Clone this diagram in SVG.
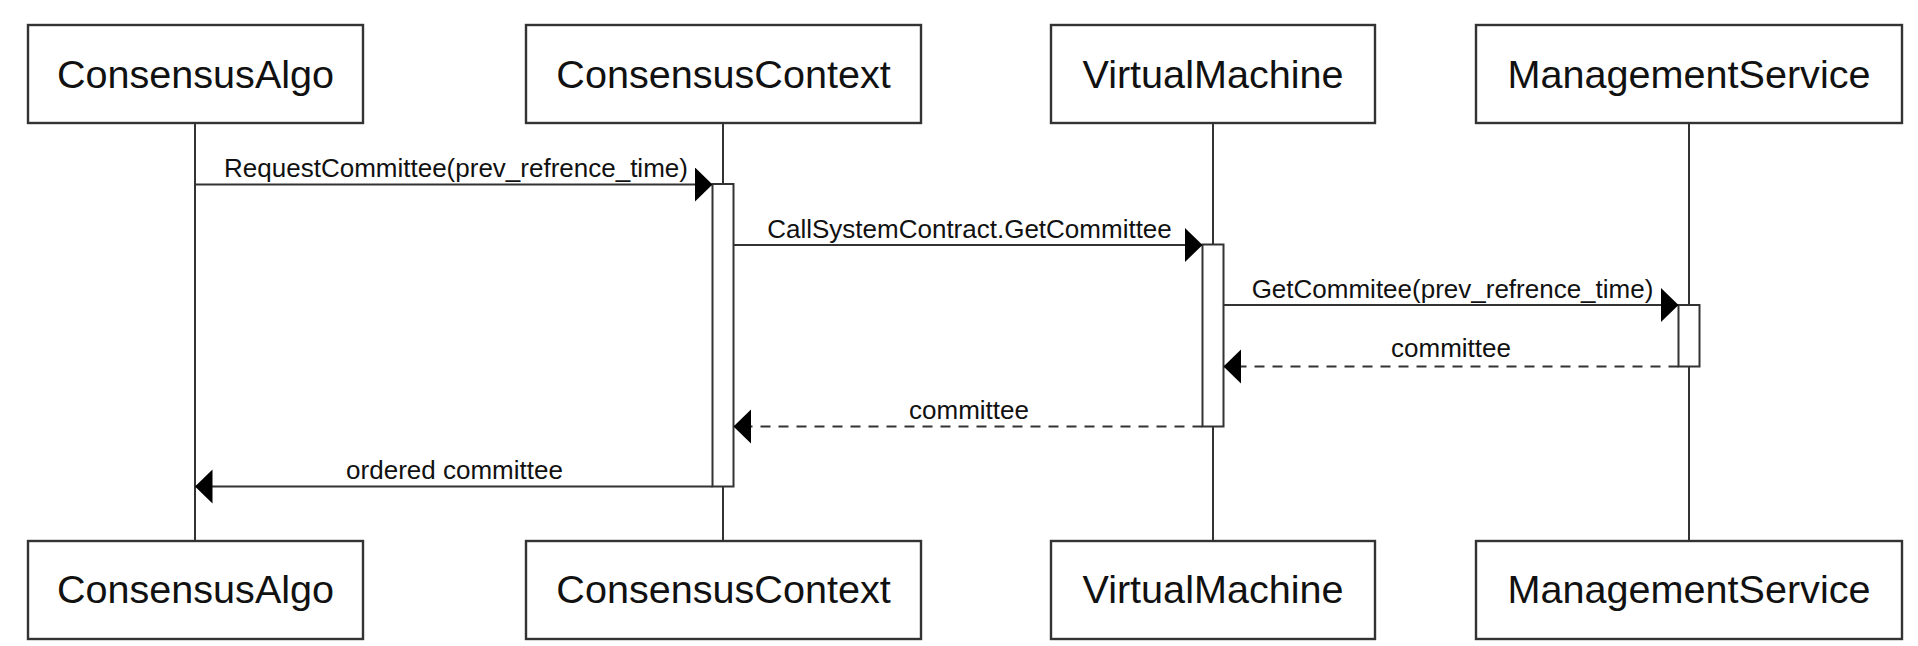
<svg xmlns="http://www.w3.org/2000/svg" width="1918" height="646" viewBox="0 0 1918 646">
<style>
.box{fill:#fff;stroke:#333;stroke-width:2.4}
.life{stroke:#333;stroke-width:2;fill:none}
.act{fill:#fff;stroke:#333;stroke-width:2}
.pt{font-family:"Liberation Sans",Arial,sans-serif;font-size:39.6px;fill:#111;text-anchor:middle}
.msg{stroke:#333;stroke-width:2;fill:none}
.dash{stroke-dasharray:10 8}
.lbl{font-family:"Liberation Sans",Arial,sans-serif;font-size:26px;fill:#111;text-anchor:middle}
</style>
<defs>
<marker id="arr" markerUnits="userSpaceOnUse" markerWidth="19" markerHeight="36" refX="17.5" refY="17" orient="auto" viewBox="0 0 19 36">
<path d="M0,0 L17.5,17 L0,34 Z" fill="#000"/>
</marker>
</defs>
<rect width="1918" height="646" fill="#fff"/>
<g id="lifelines">
<line class="life" x1="195" y1="123" x2="195" y2="541"/>
<line class="life" x1="723" y1="123" x2="723" y2="541"/>
<line class="life" x1="1213" y1="123" x2="1213" y2="541"/>
<line class="life" x1="1689" y1="123" x2="1689" y2="541"/>
</g>
<g id="ConsensusAlgo">
<rect class="box" x="28" y="25" width="335" height="98"/>
<text class="pt" x="195.5" y="87.5">ConsensusAlgo</text>
</g>
<g id="ConsensusContext">
<rect class="box" x="526" y="25" width="395" height="98"/>
<text class="pt" x="723.5" y="87.5">ConsensusContext</text>
</g>
<g id="VirtualMachine">
<rect class="box" x="1051" y="25" width="324" height="98"/>
<text class="pt" x="1213" y="87.5">VirtualMachine</text>
</g>
<g id="ManagementService">
<rect class="box" x="1476" y="25" width="426" height="98"/>
<text class="pt" x="1689" y="87.5">ManagementService</text>
</g>
<g id="ConsensusAlgo_bottom">
<rect class="box" x="28" y="541" width="335" height="98"/>
<text class="pt" x="195.5" y="603">ConsensusAlgo</text>
</g>
<g id="ConsensusContext_bottom">
<rect class="box" x="526" y="541" width="395" height="98"/>
<text class="pt" x="723.5" y="603">ConsensusContext</text>
</g>
<g id="VirtualMachine_bottom">
<rect class="box" x="1051" y="541" width="324" height="98"/>
<text class="pt" x="1213" y="603">VirtualMachine</text>
</g>
<g id="ManagementService_bottom">
<rect class="box" x="1476" y="541" width="426" height="98"/>
<text class="pt" x="1689" y="603">ManagementService</text>
</g>
<g id="activations">
<rect class="act" x="712.5" y="184" width="21" height="302.5"/>
<rect class="act" x="1202.5" y="244.5" width="21" height="182"/>
<rect class="act" x="1678.5" y="305" width="21" height="61.5"/>
</g>
<g id="connectors">
<line class="msg" x1="195" y1="184.5" x2="712.5" y2="184.5" marker-end="url(#arr)"/>
<text class="lbl" x="456" y="176.7">RequestCommittee(prev_refrence_time)</text>
<line class="msg" x1="733.5" y1="245" x2="1202.5" y2="245" marker-end="url(#arr)"/>
<text class="lbl" x="969.5" y="237.7">CallSystemContract.GetCommittee</text>
<line class="msg" x1="1223.5" y1="305" x2="1678.5" y2="305" marker-end="url(#arr)"/>
<text class="lbl" x="1452.5" y="297.5">GetCommitee(prev_refrence_time)</text>
<line class="msg dash" x1="1678.5" y1="366.5" x2="1223.5" y2="366.5" marker-end="url(#arr)"/>
<text class="lbl" x="1451" y="356.7">committee</text>
<line class="msg dash" x1="1202.5" y1="426.5" x2="733.5" y2="426.5" marker-end="url(#arr)"/>
<text class="lbl" x="969" y="419.3">committee</text>
<line class="msg" x1="712.5" y1="486.5" x2="195" y2="486.5" marker-end="url(#arr)"/>
<text class="lbl" x="454.5" y="479.3">ordered committee</text>
</g>
</svg>
